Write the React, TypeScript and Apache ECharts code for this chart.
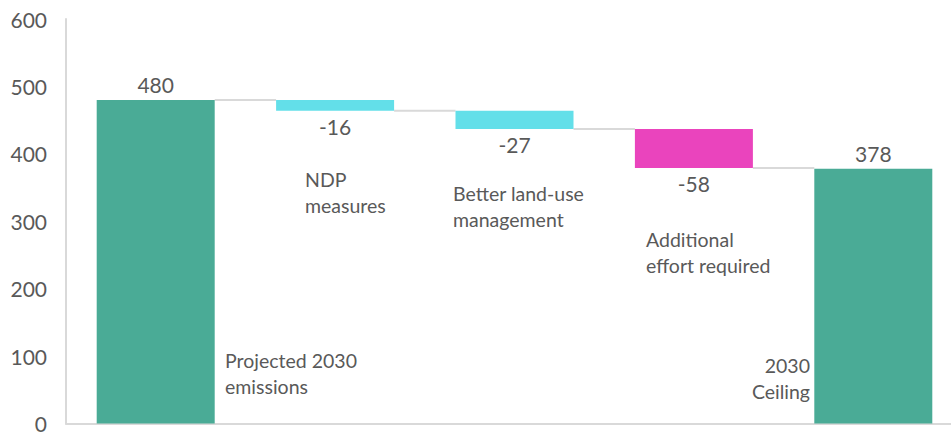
import React, { useEffect, useRef } from "react";
import * as echarts from "echarts";

const categories = ["Projected 2030\nemissions", "NDP\nmeasures", "Better land-use\nmanagement", "Additional\neffort required", "2030\nCeiling"];
const values = [480, -16, -27, -58, 378];
const isTotal = [true, false, false, false, true];
const barColors = ["#4aab96", "#63dfe9", "#63dfe9", "#ea44bd", "#4aab96"];
const yTicks = { min: 0, max: 600, interval: 100 };

const FONT = "Lato, 'Noto Sans', sans-serif";
const TEXT = "#595959";

export default function App() {
  const ref = useRef<HTMLDivElement>(null);
  useEffect(() => {
    document.body.style.margin = "0";
    document.body.style.overflow = "hidden";
    const chart = echarts.init(ref.current!, null, { renderer: "svg" });

    const bases: number[] = [];
    const heights: number[] = [];
    const levels: number[] = [];
    let running = 0;
    values.forEach((v, i) => {
      if (isTotal[i]) {
        bases.push(0);
        heights.push(v);
        running = v;
      } else {
        const next = running + v;
        bases.push(Math.min(running, next));
        heights.push(Math.abs(v));
        running = next;
      }
      levels.push(running);
    });
    const connectors = levels.slice(0, -1).map((l, i) => [i, l]);
    const halfBar = 59;

    const labelPos = [
      { x: 225, y: 347, align: "left" },
      { x: 305, y: 166, align: "left" },
      { x: 453, y: 180, align: "left" },
      { x: 646, y: 226, align: "left" },
      { x: 810, y: 352, align: "right" },
    ];

    chart.setOption({
      animation: false,
      grid: { left: 66, right: 0, top: 19, bottom: 9, containLabel: false },
      xAxis: {
        type: "category",
        data: categories,
        axisLabel: { show: false },
        axisTick: { show: false },
        axisLine: { lineStyle: { color: "#d9d9d9", width: 2 } },
      },
      yAxis: {
        type: "value",
        min: yTicks.min,
        max: yTicks.max,
        interval: yTicks.interval,
        splitLine: { show: false },
        axisTick: { show: false },
        axisLine: { show: true, lineStyle: { color: "#d9d9d9", width: 2 } },
        axisLabel: { color: TEXT, fontSize: 21, fontFamily: FONT, margin: 19 },
      },
      series: [
        {
          type: "bar",
          stack: "w",
          barWidth: 118,
          data: bases,
          itemStyle: { color: "transparent" },
          silent: true,
        },
        {
          type: "bar",
          stack: "w",
          barWidth: 118,
          data: heights.map((h, i) => ({
            value: h,
            itemStyle: { color: barColors[i] },
            label: {
              show: true,
              position: isTotal[i] ? "top" : "bottom",
              distance: 5,
              formatter: String(values[i]),
              color: TEXT,
              fontSize: 21,
              fontFamily: FONT,
            },
          })),
        },
        {
          type: "custom",
          data: connectors,
          z: 1,
          renderItem: (params: any, api: any) => {
            const i = api.value(0);
            const lvl = api.value(1);
            const p = api.coord([i, lvl]);
            const bw = api.size([1, 0])[0];
            return {
              type: "line",
              shape: { x1: p[0] + halfBar, y1: p[1], x2: p[0] + bw - halfBar, y2: p[1] },
              style: { stroke: "#d9d9d9", lineWidth: 2 },
            };
          },
        },
      ],
      graphic: categories.map((c, i) => ({
        type: "text",
        x: labelPos[i].x,
        y: labelPos[i].y,
        style: {
          text: c,
          fill: TEXT,
          fontSize: 19.5,
          fontFamily: FONT,
          lineHeight: 26,
          align: labelPos[i].align,
          verticalAlign: "top",
        },
      })),
    });
    return () => chart.dispose();
  }, []);
  return <div ref={ref} style={{ width: 963, height: 434 }} />;
}
